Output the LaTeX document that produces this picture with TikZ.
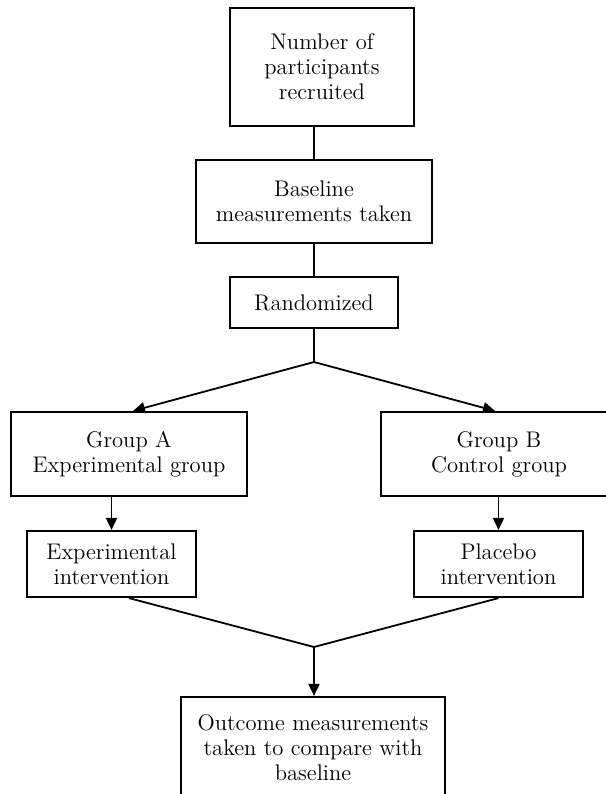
\documentclass[tikz,border=0pt]{standalone}
\usetikzlibrary{positioning,arrows.meta}
\begin{document}
\begin{tikzpicture}[x=0.5pt,y=-0.5pt,font=\fontsize{11.3}{12.5}\selectfont,>={Triangle[length=6pt,width=5.5pt]}]
  \tikzstyle{stage}=[draw,line width=1.1pt,align=center,inner sep=0pt]
  \tikzstyle{link}=[line width=0.9pt]
  \useasboundingbox (0,0) rectangle (606,794);
  \clip (0,0) rectangle (606,794);
  \node[stage,minimum width=92pt,minimum height=59pt] (recruited) at (322,67) {Number of\\participants\\recruited};
  \node[stage,minimum width=118pt,minimum height=41.5pt] (baseline) at (314,201.5) {Baseline\\measurements taken};
  \node[stage,minimum width=84pt,minimum height=25.5pt] (randomized) at (314,302.5) {Randomized};
  \node[stage,minimum width=118pt,minimum height=42pt] (groupA) at (129,454) {Group A\\Experimental group};
  \node[stage,minimum width=118pt,minimum height=42pt] (groupB) at (499,454) {Group B\\Control group};
  \node[stage,minimum width=84.5pt,minimum height=33pt] (experimental) at (111.5,564) {Experimental\\intervention};
  \node[stage,minimum width=84.5pt,minimum height=33pt] (placebo) at (498.5,564) {Placebo\\intervention};
  \node[stage,minimum width=132pt,minimum height=51pt] (outcome) at (313,748) {Outcome measurements\\taken to compare with\\baseline};
  \coordinate (split) at (314,362);
  \coordinate (merge) at (314,647);
  \draw[link] (baseline.north) -- (baseline.north |- recruited.south);
  \draw[link] (baseline) -- (randomized);
  \draw[link] (randomized) -- (split);
  \draw[link,->] (split) -- ([xshift=2pt]groupA.north);
  \draw[link,->] (split) -- ([xshift=-2pt]groupB.north);
  \draw[link,->] (experimental.north |- groupA.south) -- (experimental.north);
  \draw[link,->] (placebo.north |- groupB.south) -- (placebo.north);
  \draw[link] (experimental.south -| groupA.south) -- (merge) -- (placebo.south);
  \draw[link,->] (merge) -- (merge |- outcome.north);
\end{tikzpicture}
\end{document}
